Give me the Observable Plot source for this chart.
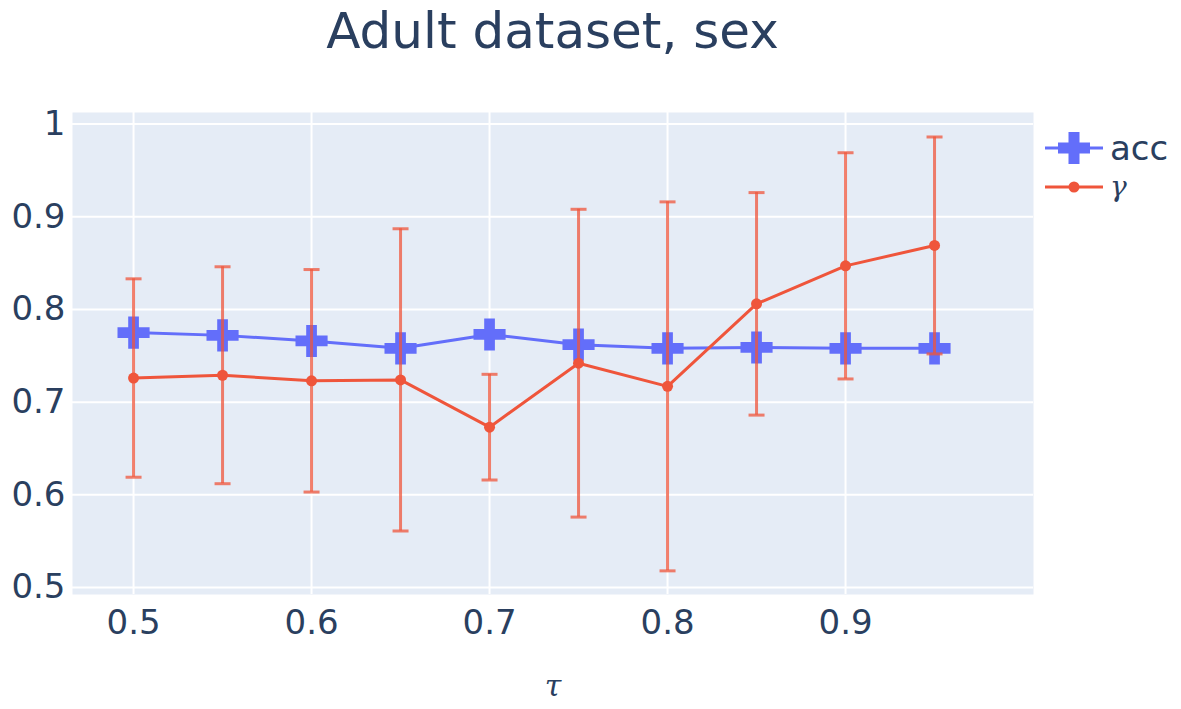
<!DOCTYPE html>
<html>
<head>
<meta charset="utf-8">
<script src="https://cdn.jsdelivr.net/npm/d3@7"></script>
<script src="https://cdn.jsdelivr.net/npm/@observablehq/plot@0.6"></script>
<style>
  html, body { margin: 0; padding: 0; background: #fff; }
  #wrap { position: relative; width: 1181px; height: 709px; font-family: "DejaVu Sans", Verdana, sans-serif; }
  #title { position: absolute; left: 72px; width: 961px; top: 0; height: 85px; text-align: center;
           font-size: 50px; color: #2a3f5f; line-height: 63px; white-space: nowrap; }
  #chart { position: absolute; left: 0; top: 85px; }
  #legend { position: absolute; left: 1045px; top: 128px; color: #2a3f5f; font-size: 34px; }
  .row { display: flex; align-items: center; height: 39px; }
  .row svg { margin-right: 7px; }
  .gam { font-family: "DejaVu Serif", serif; font-style: italic; font-size: 28px; }
</style>
</head>
<body>
<div id="wrap">
  <div id="title">Adult dataset, sex</div>
  <div id="chart"></div>
  <div id="legend">
    <div class="row">
      <svg width="58" height="34"><line x1="0" y1="17" x2="58" y2="17" stroke="#636efa" stroke-width="3"/>
        <path transform="translate(29,17)" d="M-16,-5.5H-5.5V-16H5.5V-5.5H16V5.5H5.5V16H-5.5V5.5H-16Z" fill="#636efa"/></svg>
      <span>acc</span>
    </div>
    <div class="row">
      <svg width="58" height="34"><line x1="0" y1="17" x2="58" y2="17" stroke="#EF553B" stroke-width="3"/>
        <circle cx="29" cy="17" r="5.5" fill="#EF553B"/></svg>
      <span class="gam">γ</span>
    </div>
  </div>
</div>
<script>
const tau = [0.5, 0.55, 0.6, 0.65, 0.7, 0.75, 0.8, 0.85, 0.9, 0.95];
const acc = [0.775, 0.772, 0.766, 0.758, 0.773, 0.762, 0.758, 0.759, 0.758, 0.758];
const gamma = [0.726, 0.729, 0.723, 0.724, 0.673, 0.742, 0.717, 0.806, 0.847, 0.869];
const gammaErr = [0.107, 0.117, 0.120, 0.163, 0.057, 0.166, 0.199, 0.120, 0.122, 0.117];
const xTicks = [0.5, 0.6, 0.7, 0.8, 0.9];
const yTicks = [0.5, 0.6, 0.7, 0.8, 0.9, 1];

const data = tau.map((t, i) => ({tau: t, acc: acc[i], gamma: gamma[i],
  lo: gamma[i] - gammaErr[i], hi: gamma[i] + gammaErr[i]}));

const capSymbol = { draw(ctx, size) { const w = 8; ctx.moveTo(-w, 0); ctx.lineTo(w, 0); } };

const plot = Plot.plot({
  width: 1181,
  height: 624,
  marginLeft: 72,
  marginRight: 148,
  marginTop: 27,
  marginBottom: 115,
  style: { fontFamily: "'DejaVu Sans', Verdana, sans-serif", fontSize: "34px", color: "#2a3f5f", background: "transparent" },
  x: { domain: [0.4657, 1.0056], ticks: xTicks, tickFormat: d => String(d), tickSize: 0, label: null },
  y: { domain: [0.4925, 1.0124], ticks: yTicks, tickFormat: d => String(d), tickSize: 0, label: null },
  marks: [
    Plot.frame({ fill: "#E5ECF6", stroke: null }),
    Plot.gridX(xTicks, { stroke: "#fff", strokeOpacity: 1, strokeWidth: 2 }),
    Plot.gridY(yTicks, { stroke: "#fff", strokeOpacity: 1, strokeWidth: 2 }),
    Plot.axisX(xTicks, { tickSize: 0, tickPadding: 15, tickFormat: d => String(d), fill: "#2a3f5f", fontSize: 34, label: null }),
    Plot.axisY(yTicks, { tickSize: 0, tickPadding: 7, tickFormat: d => String(d), fill: "#2a3f5f", fontSize: 34, label: null }),
    Plot.lineY(data, { x: "tau", y: "acc", stroke: "#636efa", strokeWidth: 3 }),
    Plot.dot(data, { x: "tau", y: "acc", symbol: "cross", r: 13.5, fill: "#636efa", stroke: null }),
    Plot.ruleX(data, { x: "tau", y1: "lo", y2: "hi", stroke: "#EF553B", strokeOpacity: 0.75, strokeWidth: 3 }),
    Plot.dot(data, { x: "tau", y: "lo", symbol: capSymbol, r: 5, stroke: "#EF553B", strokeOpacity: 0.75, strokeWidth: 3, fill: null }),
    Plot.dot(data, { x: "tau", y: "hi", symbol: capSymbol, r: 5, stroke: "#EF553B", strokeOpacity: 0.75, strokeWidth: 3, fill: null }),
    Plot.lineY(data, { x: "tau", y: "gamma", stroke: "#EF553B", strokeWidth: 3 }),
    Plot.dot(data, { x: "tau", y: "gamma", r: 5.5, fill: "#EF553B", stroke: null }),
    Plot.text(["τ"], { frameAnchor: "bottom", dy: 101, text: d => d, fontFamily: "'DejaVu Serif', serif", fontStyle: "italic", fontSize: 30, fill: "#2a3f5f" })
  ]
});
document.getElementById("chart").appendChild(plot);
</script>
</body>
</html>
